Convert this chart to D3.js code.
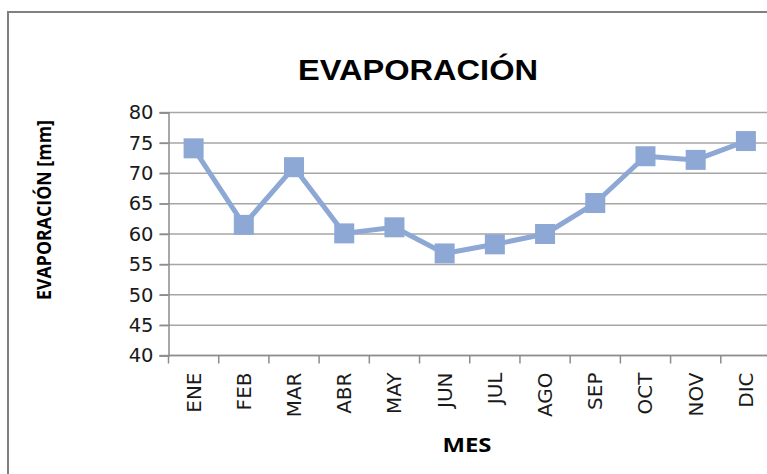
<!DOCTYPE html>
<meta charset="utf-8">
<script src="https://cdn.jsdelivr.net/npm/d3@7/dist/d3.min.js"></script>
<style>
    body { margin: 0; background: #fff; }
    svg { display: block; }
</style>
<svg width="767" height="474"></svg>
<script>
    // data
    var meses = ["ENE", "FEB", "MAR", "ABR", "MAY", "JUN", "JUL", "AGO", "SEP", "OCT", "NOV", "DIC"];
    var evaporacion = [74.1, 61.5, 71.0, 60.1, 61.1, 56.8, 58.3, 60.0, 65.1, 72.8, 72.2, 75.3];
    var yTicks = [40, 45, 50, 55, 60, 65, 70, 75, 80];

    var svg = d3.select("svg");
    var color = "#8ea8d6";

    // outer chart frame (cut off on the right and bottom like the picture)
    svg.append("rect")
        .attr("x", 8).attr("y", 12)
        .attr("width", 820).attr("height", 520)
        .attr("fill", "#fff")
        .attr("stroke", "#808080")
        .attr("stroke-width", 2);

    var plotL = 168.5, plotR = 771, plotT = 112.5, plotB = 355.5;

    var x = d3.scaleBand().domain(meses).range([plotL, plotR]);
    var y = d3.scaleLinear().domain([40, 80]).range([plotB, plotT]);

    // gridlines
    svg.append("g")
        .selectAll("line")
        .data(yTicks)
        .enter().append("line")
        .attr("x1", plotL - 9).attr("x2", plotR)
        .attr("y1", function (d) { return y(d); })
        .attr("y2", function (d) { return y(d); })
        .attr("stroke", "#a6a6a6")
        .attr("stroke-width", 1.5);

    // y axis
    var yAxis = svg.append("g")
        .attr("transform", "translate(" + plotL + ",0)")
        .call(d3.axisLeft(y).tickValues(yTicks).tickSize(9).tickPadding(6));
    yAxis.select(".domain").attr("stroke", "#8c8c8c").attr("stroke-width", 1.5);
    yAxis.selectAll(".tick line").attr("stroke", "#8c8c8c").attr("stroke-width", 1.5);
    yAxis.selectAll("text")
        .attr("font-family", "DejaVu Sans")
        .attr("font-size", 19.5)
        .attr("fill", "#1a1a1a");

    // x axis: tick marks at category boundaries
    var xg = svg.append("g").attr("transform", "translate(0," + plotB + ")");
    xg.append("line")
        .attr("x1", plotL).attr("x2", plotR)
        .attr("stroke", "#8c8c8c").attr("stroke-width", 1.5);
    xg.append("line")
        .attr("x1", plotL).attr("x2", plotL)
        .attr("y1", 0).attr("y2", 8)
        .attr("stroke", "#8c8c8c").attr("stroke-width", 1.5);
    xg.selectAll(".bound")
        .data(meses)
        .enter().append("line")
        .attr("class", "bound")
        .attr("x1", function (d) { return x(d) + x.bandwidth(); })
        .attr("x2", function (d) { return x(d) + x.bandwidth(); })
        .attr("y1", 0).attr("y2", 8)
        .attr("stroke", "#8c8c8c").attr("stroke-width", 1.5);
    xg.selectAll(".lbl")
        .data(meses)
        .enter().append("text")
        .attr("class", "lbl")
        .attr("transform", function (d) {
            return "translate(" + (x(d) + x.bandwidth() / 2 + 7) + ",17) rotate(-90)";
        })
        .attr("text-anchor", "end")
        .attr("font-family", "DejaVu Sans")
        .attr("font-size", 20)
        .attr("fill", "#1a1a1a")
        .text(function (d) { return d; });

    // series line + square markers
    var line = d3.line()
        .x(function (d, i) { return x(meses[i]) + x.bandwidth() / 2; })
        .y(function (d) { return y(d); });

    svg.append("path")
        .datum(evaporacion)
        .attr("d", line)
        .attr("fill", "none")
        .attr("stroke", color)
        .attr("stroke-width", 5)
        .attr("stroke-linejoin", "round");

    var ms = 20;
    svg.append("g")
        .selectAll("rect")
        .data(evaporacion)
        .enter().append("rect")
        .attr("x", function (d, i) { return x(meses[i]) + x.bandwidth() / 2 - ms / 2; })
        .attr("y", function (d) { return y(d) - ms / 2; })
        .attr("width", ms).attr("height", ms)
        .attr("fill", color);

    // titles
    svg.append("text")
        .attr("x", 418).attr("y", 80)
        .attr("text-anchor", "middle")
        .attr("font-family", "Liberation Sans, Arial, sans-serif")
        .attr("font-weight", "bold")
        .attr("font-size", 29)
        .attr("textLength", 240)
        .attr("lengthAdjust", "spacingAndGlyphs")
        .attr("fill", "#000")
        .text("EVAPORACIÓN");

    svg.append("text")
        .attr("transform", "translate(51,210) rotate(-90)")
        .attr("text-anchor", "middle")
        .attr("font-family", "Open Sans, sans-serif")
        .attr("font-weight", "bold")
        .attr("font-size", 19.5)
        .attr("textLength", 180)
        .attr("lengthAdjust", "spacingAndGlyphs")
        .attr("fill", "#000")
        .text("EVAPORACIÓN [mm]");

    svg.append("text")
        .attr("x", 467).attr("y", 452)
        .attr("text-anchor", "middle")
        .attr("font-family", "Open Sans, sans-serif")
        .attr("font-weight", "bold")
        .attr("font-size", 20)
        .attr("textLength", 49)
        .attr("lengthAdjust", "spacingAndGlyphs")
        .attr("fill", "#000")
        .text("MES");
</script>
